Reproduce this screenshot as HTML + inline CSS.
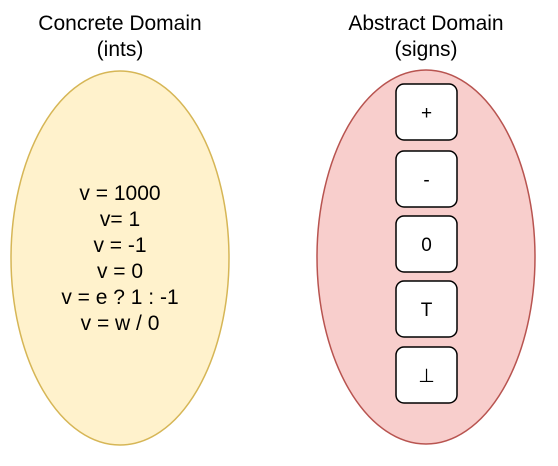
<!DOCTYPE html>
<html><head><style>
html,body{margin:0;padding:0;background:#fff;}
svg{display:block;}
text{font-family:"Liberation Sans",Arial,sans-serif;font-size:21px;fill:#000;}
</style></head><body>
<svg width="558" height="466" viewBox="0 0 558 466" xmlns="http://www.w3.org/2000/svg">
<text x="120" y="30" text-anchor="middle">Concrete Domain</text>
<text x="120" y="56" text-anchor="middle">(ints)</text>
<text x="426" y="30" text-anchor="middle">Abstract Domain</text>
<text x="426" y="56" text-anchor="middle">(signs)</text>
<ellipse cx="120" cy="258" rx="109" ry="187" fill="#fff2cc" stroke="#d6b656" stroke-width="1.5"/>
<ellipse cx="426" cy="257" rx="109" ry="187" fill="#f8cecc" stroke="#b85450" stroke-width="1.5"/>
<g text-anchor="middle">
<text x="120" y="200">v = 1000</text>
<text x="120" y="226">v= 1</text>
<text x="120" y="252">v = -1</text>
<text x="120" y="278">v = 0</text>
<text x="120" y="304">v = e ? 1 : -1</text>
<text x="120" y="330">v = w / 0</text>
</g>
<g fill="#fff" stroke="#000" stroke-width="1.5">
<rect x="396" y="84" width="61" height="56" rx="8"/>
<rect x="396" y="151" width="61" height="56" rx="8"/>
<rect x="396" y="216" width="61" height="56" rx="8"/>
<rect x="396" y="281" width="61" height="56" rx="8"/>
<rect x="396" y="347" width="61" height="56" rx="8"/>
</g>
<g text-anchor="middle">
<text x="426.5" y="119" style="font-size:19px">+</text>
<text x="426.5" y="186" style="font-size:19px">-</text>
<text x="426.5" y="251" style="font-size:19px">0</text>
<text x="426.5" y="316" style="font-size:19px">T</text>
<text x="426.5" y="382" style="font-size:19px">⊥</text>
</g>
</svg>
</body></html>
